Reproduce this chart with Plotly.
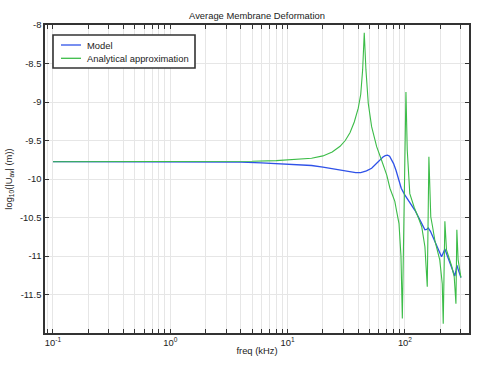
import plotly.graph_objects as go

# ---- data ----
freq_model = [0.1, 0.2, 0.5, 1, 2, 3, 4, 6, 8.6, 12.8, 16, 20, 24, 28, 33, 38, 42, 47, 52,
              57, 61, 65, 68, 71, 74, 77, 80, 84, 88, 93, 100, 110, 122, 135, 148, 153,
              158, 165, 180, 195, 205, 212, 219, 230, 250, 266, 272, 277, 285, 300]
u_model = [-9.775, -9.775, -9.775, -9.775, -9.776, -9.778, -9.782, -9.79, -9.8, -9.812,
           -9.825, -9.845, -9.865, -9.89, -9.908, -9.918, -9.916, -9.895, -9.86,
           -9.80, -9.75, -9.715, -9.697, -9.69, -9.705, -9.745, -9.80, -9.89, -9.99, -10.12,
           -10.21, -10.30, -10.41, -10.54, -10.66, -10.655, -10.635, -10.68, -10.81, -10.93,
           -11.01, -10.96, -10.91, -11.0, -11.14, -11.26, -11.19, -11.12, -11.18, -11.28]

freq_analytic = [0.1, 0.3, 1, 2, 5, 8, 12.8, 16, 20, 24, 28, 31, 34, 37, 40, 42, 43.6, 45,
                 46.5, 48.7, 52, 57.4, 63, 70, 74.5, 82, 85, 89, 92.5, 95, 102, 104.6, 110,
                 120, 130, 139, 148, 155, 160, 166, 172, 180, 198, 208, 212, 219, 226, 250,
                 263, 272, 277, 284, 300]
u_analytic = [-9.775, -9.775, -9.775, -9.774, -9.77, -9.762, -9.745, -9.73, -9.70, -9.65,
              -9.575, -9.50, -9.40, -9.26, -9.08, -8.90, -8.58, -8.10,
              -8.58, -9.02, -9.32, -9.58, -9.75, -9.95, -10.12, -10.29, -10.42, -10.58,
              -11.0, -11.81, -8.87, -9.62, -10.19,
              -10.37, -10.50, -10.62, -10.88, -11.40, -9.71, -10.49, -10.62, -10.80, -11.05,
              -11.36, -11.88, -10.55, -10.92, -11.13, -11.27, -11.62, -10.66, -11.05, -11.28]

series_names = ["Model", "Analytical approximation"]
series_colors = ["#2f52e8", "#3cbc48"]

x_tick_vals = [0.1, 1, 10, 100]
x_tick_text = ["10<sup>-1</sup>", "10<sup>0</sup>", "10<sup>1</sup>", "10<sup>2</sup>"]
x_minor_vals = [0.09, 0.2, 0.3, 0.4, 0.5, 0.6, 0.7, 0.8, 0.9,
                2, 3, 4, 5, 6, 7, 8, 9,
                20, 30, 40, 50, 60, 70, 80, 90,
                200, 300]
y_tick_vals = [-8, -8.5, -9, -9.5, -10, -10.5, -11, -11.5]
y_tick_text = ["-8", "-8.5", "-9", "-9.5", "-10", "-10.5", "-11", "-11.5"]

FONT = "Liberation Sans, Arial, sans-serif"
FS = 9.4
TXT = "#222222"
GRID = "#e6e6e6"
W, H = 481, 372
ML, MR, MT, MB = 45, 12, 25, 39
PW, PH = W - ML - MR, H - MT - MB


def px(x):
    return (x - ML) / PW


def py(y):
    return (H - MB - y) / PH


fig = go.Figure()
fig.add_trace(go.Scatter(x=freq_model, y=u_model, mode="lines", name=series_names[0],
                         line=dict(color=series_colors[0], width=1.3), showlegend=False))
fig.add_trace(go.Scatter(x=freq_analytic, y=u_analytic, mode="lines",
                         name=series_names[1], showlegend=False,
                         line=dict(color=series_colors[1], width=1.1)))

# legend box drawn by hand (compact, like the reference)
shapes = [dict(type="rect", xref="paper", yref="paper",
               x0=px(53), x1=px(195), y0=py(68), y1=py(35),
               line=dict(color="#333333", width=1.6), fillcolor="white", layer="above")]
annotations = []
for i, (name, col) in enumerate(zip(series_names, series_colors)):
    yy = 45 + i * 13.3
    shapes.append(dict(type="line", xref="paper", yref="paper",
                       x0=px(61), x1=px(81), y0=py(yy), y1=py(yy),
                       line=dict(color=col, width=1.3), layer="above"))
    annotations.append(dict(text=name, xref="paper", yref="paper", x=px(85), y=py(yy),
                            xanchor="left", yanchor="middle", showarrow=False,
                            font=dict(family=FONT, size=FS, color=TXT)))

fig.update_layout(
    width=W, height=H,
    margin=dict(l=ML, r=MR, t=MT, b=MB, autoexpand=False),
    paper_bgcolor="white", plot_bgcolor="white",
    font=dict(family=FONT, size=FS, color=TXT),
    title=dict(text="Average Membrane Deformation", x=0.5, xref="paper",
               y=1 - 16 / H, yanchor="middle", xanchor="center",
               font=dict(size=FS, color=TXT)),
    showlegend=False,
    shapes=shapes,
    annotations=annotations,
)

fig.update_xaxes(
    type="log", range=[-1.068, 2.546], automargin=False,
    tickmode="array", tickvals=x_tick_vals, ticktext=x_tick_text,
    ticks="inside", ticklen=4, tickcolor="#333333",
    showgrid=True, gridcolor=GRID, gridwidth=1,
    minor=dict(tickmode="array", tickvals=x_minor_vals, ticks="inside", ticklen=4,
               tickcolor="#333333", showgrid=True, gridcolor=GRID, gridwidth=1),
    showline=True, linecolor="#333333", linewidth=1.5, mirror="allticks",
    zeroline=False,
    tickfont=dict(size=FS, color=TXT),
    title=dict(text="freq (kHz)", font=dict(size=FS, color=TXT), standoff=0),
)
fig.update_yaxes(
    range=[-12, -8], automargin=False,
    tickmode="array", tickvals=y_tick_vals, ticktext=y_tick_text,
    ticks="inside", ticklen=4, tickcolor="#333333",
    showgrid=True, gridcolor=GRID, gridwidth=1,
    showline=True, linecolor="#333333", linewidth=1.5, mirror="allticks",
    zeroline=False,
    tickfont=dict(size=FS, color=TXT),
    title=dict(text="log<sub>10</sub>(|U<sub>av</sub>| (m))",
               font=dict(size=FS, color=TXT), standoff=6),
)

fig.write_html("out.html", config={"displayModeBar": False},
               post_script="document.body.style.margin='0';document.body.style.padding='0';")
